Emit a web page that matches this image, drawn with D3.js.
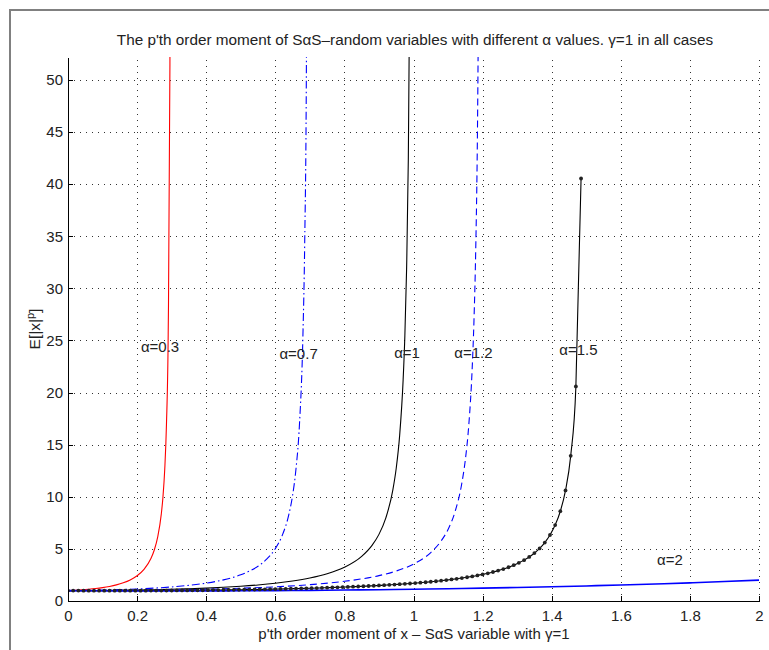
<!DOCTYPE html>
<html><head><meta charset="utf-8">
<script src="https://cdn.jsdelivr.net/npm/d3@7"></script>
<style>
body{margin:0;background:#fff;}
svg{display:block;font-family:"Liberation Sans",Arial,Helvetica,sans-serif;}
</style></head><body>
<svg id="chart" width="769" height="650"></svg>
<script>
// ---- data ----
const titleText = "The p'th order moment of S\u03b1S\u2013random variables with different \u03b1 values. \u03b3=1 in all cases";
const xLabelText = "p'th order moment of x \u2013 S\u03b1S variable with \u03b3=1";

const xTicks = [0,0.2,0.4,0.6,0.8,1,1.2,1.4,1.6,1.8,2];
const xTickLabels = ["0","0.2","0.4","0.6","0.8","1","1.2","1.4","1.6","1.8","2"];
const yTicks = [0,5,10,15,20,25,30,35,40,45,50];
const yTickLabels = ["0","5","10","15","20","25","30","35","40","45","50"];

// alpha = 0.3 (red, solid)
const p03 = [0,0.02,0.04,0.06,0.08,0.1,0.12,0.14,0.16,0.18,0.2,0.22,0.24,0.25,0.26,0.27,0.275,0.28,0.285,0.29,0.295,0.297];
const e03 = [1,1.032,1.073,1.128,1.196,1.283,1.398,1.547,1.748,2.023,2.42,3.033,4.076,4.921,6.199,8.339,10.04,12.64,16.95,25.59,51.5,86.1];

// alpha = 0.7 (blue, dash-dot)
const p07 = [0,0.05,0.1,0.15,0.2,0.25,0.3,0.35,0.4,0.45,0.5,0.525,0.55,0.575,0.6,0.62,0.64,0.65,0.66,0.67,0.68,0.685,0.69,0.695];
const e07 = [1,1.018,1.048,1.093,1.153,1.236,1.348,1.502,1.716,2.03,2.513,2.865,3.339,4.008,5.018,6.287,8.41,10.12,12.71,16.98,25.56,34.14,51.3,102.9];

// alpha = 1 (black, solid)
const p10 = [0,0.05,0.1,0.15,0.2,0.25,0.3,0.35,0.4,0.45,0.5,0.55,0.6,0.65,0.7,0.75,0.8,0.85,0.88,0.9,0.92,0.94,0.95,0.96,0.97,0.975,0.98,0.985,0.99];
const e10 = [1,1.004,1.0125,1.029,1.052,1.083,1.123,1.174,1.236,1.316,1.414,1.54,1.701,1.913,2.202,2.612,3.236,4.283,5.34,6.393,7.977,10.62,12.74,15.92,21.22,25.46,31.82,42.4,63.65];

// alpha = 1.2 (blue, dashed)
const p12 = [0,0.1,0.2,0.3,0.4,0.5,0.6,0.7,0.8,0.9,0.95,1.0,1.05,1.08,1.1,1.12,1.14,1.15,1.16,1.17,1.175,1.18,1.185,1.19];
const e12 = [1,0.999,1.02,1.06,1.124,1.22,1.359,1.566,1.888,2.436,2.877,3.543,4.651,5.764,6.866,8.539,11.32,13.54,16.87,22.43,26.88,33.54,44.66,66.9];

// alpha = 1.5 (black, solid with point markers)
const p15 = [0,0.015,0.03,0.045,0.06,0.075,0.09,0.105,0.12,0.135,0.15,0.165,0.18,0.195,0.21,0.225,0.24,0.255,0.27,0.285,
  0.3,0.315,0.33,0.345,0.36,0.375,0.39,0.405,0.42,0.435,0.45,0.465,0.48,0.495,0.51,0.525,0.54,0.555,0.57,0.585,
  0.6,0.615,0.63,0.645,0.66,0.675,0.69,0.705,0.72,0.735,0.75,0.765,0.78,0.795,0.81,0.825,0.84,0.855,0.87,0.885,
  0.9,0.915,0.93,0.945,0.96,0.975,0.99,1.005,1.02,1.035,1.05,1.065,1.08,1.095,1.11,1.125,1.14,1.155,1.17,1.185,
  1.2,1.215,1.23,1.245,1.26,1.275,1.29,1.305,1.32,1.335,1.35,1.365,1.38,1.395,1.41,1.425,1.44,1.455,1.47,1.485];
const e15 = [1,0.998,0.996,0.994,0.992,0.991,0.99,0.989,0.989,0.989,0.989,0.99,0.991,0.992,0.993,0.994,0.996,0.999,1.001,1.004,
  1.007,1.011,1.015,1.019,1.023,1.028,1.033,1.039,1.044,1.05,1.057,1.064,1.071,1.078,1.086,1.095,1.104,1.113,1.122,1.132,
  1.142,1.153,1.165,1.177,1.189,1.202,1.216,1.23,1.245,1.261,1.277,1.295,1.313,1.332,1.351,1.371,1.393,1.416,1.44,1.465,
  1.491,1.519,1.548,1.578,1.61,1.644,1.68,1.718,1.758,1.801,1.847,1.897,1.95,2.006,2.066,2.13,2.2,2.277,2.36,2.451,
  2.552,2.66,2.781,2.915,3.067,3.24,3.437,3.662,3.921,4.228,4.596,5.046,5.607,6.331,7.285,8.615,10.61,13.93,20.59,40.54];

// alpha = 2 (blue, solid)
const p20 = [0,0.1,0.2,0.3,0.4,0.5,0.6,0.7,0.8,0.9,1,1.1,1.2,1.3,1.4,1.5,1.6,1.7,1.8,1.9,2];
const e20 = [1,0.977,0.965,0.962,0.966,0.978,0.996,1.02,1.05,1.086,1.128,1.177,1.233,1.296,1.367,1.446,1.535,1.634,1.743,1.865,2];

// curve annotations (text, x, y in data units)
const annText = ["\u03b1=0.3","\u03b1=0.7","\u03b1=1","\u03b1=1.2","\u03b1=1.5","\u03b1=2"];
const annX = [0.211,0.612,0.944,1.118,1.422,1.705];
const annY = [24.4,23.7,23.8,23.8,24.1,3.9];

// ---- drawing ----
const svg = d3.select("#chart");
const x = d3.scaleLinear().domain([0,2]).range([68,759]);
const y = d3.scaleLinear().domain([0,52.2]).range([601,57]);

// outer frame (partial figure border)
svg.append("path").attr("d","M10,650V10H769").attr("fill","none")
  .attr("stroke","#808080").attr("stroke-width",2);

// grid
const grid = svg.append("g").attr("stroke","#333").attr("stroke-width",1)
  .attr("stroke-dasharray","1,5").attr("shape-rendering","crispEdges");
grid.selectAll("line.v").data(xTicks.slice(1)).join("line").attr("class","v")
  .attr("x1",d=>Math.round(x(d))+0.5).attr("x2",d=>Math.round(x(d))+0.5)
  .attr("y1",y(0)).attr("y2",y(52.2));
grid.selectAll("line.h").data(yTicks.slice(1)).join("line").attr("class","h")
  .attr("y1",d=>Math.round(y(d))+0.5).attr("y2",d=>Math.round(y(d))+0.5)
  .attr("x1",x(0)).attr("x2",x(2));

// clip for curves
svg.append("clipPath").attr("id","clip").append("rect")
  .attr("x",x(0)).attr("y",y(52.2)).attr("width",x(2)-x(0)).attr("height",y(0)-y(52.2));

const line = d3.line().x(d=>x(d[0])).y(d=>y(d[1])).curve(d3.curveMonotoneX);
const zip = (a,b)=>a.map((v,i)=>[v,b[i]]);
const plot = svg.append("g").attr("clip-path","url(#clip)").attr("fill","none");

const series = [
  {d:zip(p03,e03), c:"#ff0000", dash:null, w:1.1},
  {d:zip(p07,e07), c:"#0000ff", dash:"8,3,1.5,3", w:1.1},
  {d:zip(p10,e10), c:"#000000", dash:null, w:1.1},
  {d:zip(p12,e12), c:"#0000ff", dash:"7,4", w:1.1},
  {d:zip(p15,e15), c:"#000000", dash:null, w:1.1},
  {d:zip(p20,e20), c:"#0000ff", dash:null, w:1.6}
];
series.forEach(s=>{
  plot.append("path").attr("d",line(s.d)).attr("stroke",s.c)
    .attr("stroke-width",s.w).attr("stroke-dasharray",s.dash);
});
plot.append("g").attr("fill","#222").selectAll("circle").data(zip(p15,e15)).join("circle")
  .attr("cx",d=>x(d[0])).attr("cy",d=>y(d[1])).attr("r",1.9);

// axes
const xAxis = d3.axisBottom(x).tickValues(xTicks).tickFormat((d,i)=>xTickLabels[i])
  .tickSizeInner(-5).tickSizeOuter(0).tickPadding(9);
const yAxis = d3.axisLeft(y).tickValues(yTicks).tickFormat((d,i)=>yTickLabels[i])
  .tickSizeInner(-5).tickSizeOuter(0).tickPadding(5);
const gx = svg.append("g").attr("transform",`translate(0,${y(0)})`).call(xAxis);
const gy = svg.append("g").attr("transform",`translate(${x(0)},0)`).call(yAxis);
[gx,gy].forEach(g=>{
  g.selectAll("path,line").attr("stroke","#000").attr("shape-rendering","crispEdges");
  g.selectAll("text").attr("fill","#222").attr("font-size",15)
    .attr("font-family","'Liberation Sans',Arial,sans-serif");
});

// annotations
svg.append("g").attr("font-size",15).attr("fill","#222")
  .selectAll("text").data(annText).join("text")
  .attr("x",(d,i)=>x(annX[i])).attr("y",(d,i)=>y(annY[i])+5).text(d=>d);

// title and axis labels
svg.append("text").attr("x",415).attr("y",45).attr("text-anchor","middle")
  .attr("font-size",15.3).attr("fill","#222").text(titleText);
svg.append("text").attr("x",414).attr("y",639).attr("text-anchor","middle")
  .attr("font-size",15).attr("fill","#222").text(xLabelText);
const yl = svg.append("text").attr("transform","translate(40,329) rotate(-90)")
  .attr("text-anchor","middle").attr("font-size",15.5).attr("fill","#222");
yl.append("tspan").text("E[|x|");
yl.append("tspan").attr("baseline-shift","super").attr("font-size",11).text("p");
yl.append("tspan").text("]");
</script>
</body></html>
